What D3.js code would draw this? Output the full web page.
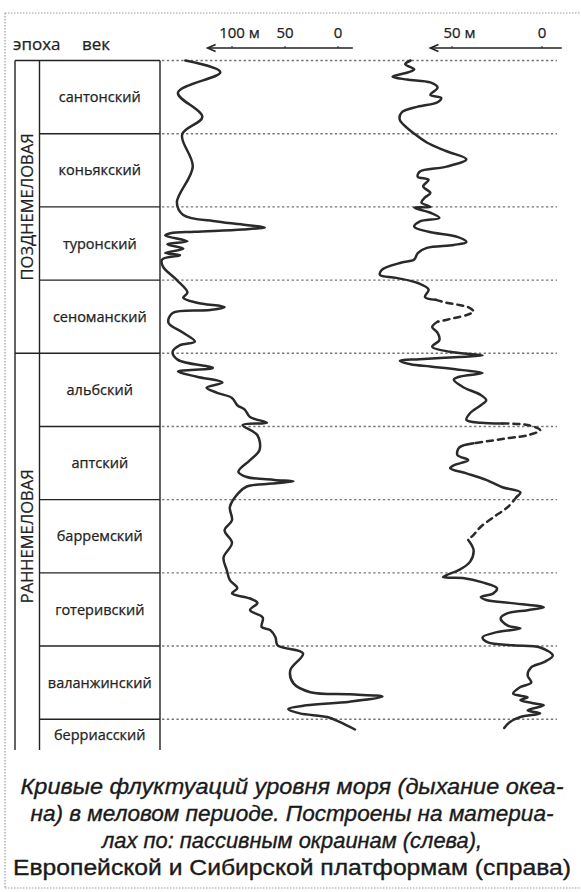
<!DOCTYPE html>
<html>
<head>
<meta charset="utf-8">
<script src="https://cdn.jsdelivr.net/npm/d3@7/dist/d3.min.js"></script>
<style>
  body { margin: 0; background: #fff; }
  svg { display: block; font-family: 'Open Sans', 'DejaVu Sans', sans-serif; }
</style>
</head>
<body>
<svg id="chart"></svg>
<script>
// ярусы сверху вниз, одна строка таблицы на ярус
const stages = ['сантонский', 'коньякский', 'туронский', 'сеноманский', 'альбский',
  'аптский', 'барремский', 'готеривский', 'валанжинский', 'берриасский'];
// [название, первый ярус, последний ярус + 1]
const epochs = [['ПОЗДНЕМЕЛОВАЯ', 0, 4], ['РАННЕМЕЛОВАЯ', 4, 10]];
const visibleStages = 9.42; // берриас обрезан снизу

const leftTicks = [100, 50, 0];
const rightTicks = [50, 0];
const unit = 'м';

// [положение в ярусах, уровень моря, м] — пассивные окраины
const leftCurve = [
  [0.00, 144], [0.16, 111], [0.44, 151], [0.77, 128], [1.01, 147], [1.45, 137], [1.94, 152],
  [2.11, 146], [2.20, 114], [2.25, 85], [2.28, 69], [2.31, 90], [2.34, 135], [2.36, 158],
  [2.39, 163], [2.47, 142], [2.51, 161], [2.57, 146], [2.63, 163], [2.66, 149], [2.72, 166],
  [2.82, 165], [3.00, 152], [3.17, 142], [3.24, 146], [3.31, 133], [3.37, 107], [3.41, 121],
  [3.45, 156], [3.58, 160], [3.72, 146], [3.84, 135], [3.89, 149], [3.98, 156], [4.09, 151],
  [4.20, 118], [4.25, 151], [4.32, 133], [4.40, 109], [4.47, 124], [4.54, 114], [4.61, 100],
  [4.71, 95], [4.77, 88], [4.87, 83], [4.95, 67], [4.98, 90], [5.12, 76], [5.32, 74],
  [5.46, 83], [5.62, 94], [5.69, 86], [5.73, 60], [5.75, 42], [5.78, 62], [5.82, 86],
  [5.91, 94], [6.10, 102], [6.28, 100], [6.42, 107], [6.59, 100], [6.79, 108], [6.96, 105],
  [7.10, 102], [7.21, 95], [7.28, 100], [7.35, 83], [7.41, 76], [7.51, 83], [7.61, 71],
  [7.74, 72], [7.78, 64], [7.88, 59], [7.99, 57], [8.10, 33], [8.33, 45], [8.51, 42],
  [8.63, 26], [8.66, -11], [8.69, -42], [8.76, -11], [8.81, 30], [8.86, 47], [8.92, 36],
  [8.97, 10], [9.04, -2], [9.14, -16],
];

// Европейская и Сибирская платформы: куски кривой, пунктир — предполагаемые участки
const rightCurve = [
  ['solid', [
    [0.00, 73], [0.05, 76], [0.12, 71], [0.16, 74], [0.22, 83], [0.26, 75], [0.30, 62],
    [0.37, 58], [0.47, 62], [0.51, 56], [0.57, 58], [0.63, 69], [0.71, 78], [0.81, 79],
    [0.92, 75], [0.98, 72], [1.12, 64], [1.24, 53], [1.35, 42], [1.45, 53], [1.52, 68],
    [1.59, 69], [1.63, 63], [1.72, 66], [1.81, 62], [1.87, 65], [1.94, 67], [2.00, 62],
    [2.01, 71], [2.08, 62], [2.15, 57], [2.20, 68], [2.27, 71], [2.34, 63], [2.41, 47],
    [2.48, 42], [2.52, 49], [2.56, 64], [2.63, 69], [2.72, 71], [2.76, 78], [2.86, 89],
    [2.93, 90], [2.97, 81], [3.04, 69], [3.13, 63], [3.23, 65], [3.27, 59],
  ]],
  ['dash', [
    [3.27, 59], [3.31, 53], [3.34, 46], [3.37, 41], [3.43, 38], [3.47, 41], [3.52, 49], [3.57, 58],
  ]],
  ['solid', [
    [3.57, 58], [3.64, 61], [3.72, 58], [3.82, 57], [3.91, 61], [3.98, 51], [4.01, 40],
    [4.03, 33], [4.05, 46], [4.08, 68], [4.10, 79], [4.15, 73], [4.18, 62], [4.23, 44],
    [4.27, 33], [4.32, 46], [4.36, 49], [4.46, 44], [4.57, 34], [4.64, 31], [4.71, 34],
    [4.82, 40], [4.91, 42], [4.95, 34], [4.96, 22],
  ]],
  ['dash', [
    [4.96, 22], [4.98, 8], [5.05, 1], [5.12, 8], [5.16, 19], [5.23, 38],
  ]],
  ['solid', [
    [5.23, 38], [5.29, 46], [5.39, 47], [5.46, 41], [5.53, 49], [5.57, 51], [5.64, 42],
    [5.73, 31], [5.83, 22], [5.90, 12], [5.96, 14],
  ]],
  ['dash', [
    [5.96, 14], [6.10, 19], [6.24, 27], [6.37, 34], [6.48, 38], [6.55, 41],
  ]],
  ['solid', [
    [6.55, 41], [6.69, 38], [6.85, 40], [6.96, 46], [7.03, 53], [7.06, 55], [7.07, 44],
    [7.13, 33], [7.21, 25], [7.28, 27], [7.33, 34], [7.37, 31], [7.41, 18], [7.47, -1],
    [7.51, 8], [7.55, 19], [7.62, 23], [7.72, 19], [7.76, 12], [7.81, 25], [7.88, 33],
    [7.95, 30], [7.99, 16], [8.02, 1], [8.13, -6], [8.22, -1], [8.29, 6], [8.40, 8],
    [8.50, 6], [8.56, 12], [8.65, 16], [8.70, 8], [8.74, 12], [8.78, 5], [8.81, -1],
    [8.88, 8], [8.92, 1], [8.97, 12], [9.04, 18], [9.12, 21],
  ]],
];

const captionLines = [
  'Кривые флуктуаций уровня моря (дыхание океа-',
  'на) в меловом периоде. Построены на материа-',
  'лах по: пассивным окраинам (слева),',
  'Европейской и Сибирской платформам (справа)',
];

const width = 581;
const height = 892;
const box = { left: 15, epochRight: 39.5, right: 160, top: 60.5, bottom: 750 };
const guideRight = 557;
const ink = '#222';

const svg = d3.select('#chart').attr('width', width).attr('height', height)
  .attr('viewBox', [0, 0, width, height]);
svg.append('rect').attr('width', width).attr('height', height).attr('fill', '#fff');

const y_scale = d3.scaleLinear([0, visibleStages], [box.top, box.bottom]);
const left_x = d3.scaleLinear([0, 100], [338, 232]);
const right_x = d3.scaleLinear([0, 50], [542, 452]);

/**
 * рамка страницы (точечная)
 */
const frame = svg.append('g').attr('stroke', '#9a9a9a').attr('stroke-width', 1.2)
  .attr('stroke-dasharray', '1.5 1.5');
frame.append('line').attr('x1', 5).attr('x2', width).attr('y1', 13).attr('y2', 13);
frame.append('line').attr('x1', 5).attr('x2', 5).attr('y1', 13).attr('y2', 888);
frame.append('line').attr('x1', 5).attr('x2', width).attr('y1', 888).attr('y2', 888);

/**
 * таблица эпох и ярусов
 */
const table = svg.append('g').attr('stroke', ink).attr('stroke-width', 1.4);
[box.left, box.epochRight, box.right].forEach((x) => {
  table.append('line').attr('x1', x).attr('x2', x).attr('y1', box.top).attr('y2', box.bottom);
});
table.append('line').attr('x1', box.left).attr('x2', box.right).attr('y1', box.top).attr('y2', box.top);
d3.range(1, Math.floor(visibleStages) + 1).forEach((i) => {
  const epochEdge = epochs.some((e) => e[1] === i);
  table.append('line')
    .attr('x1', epochEdge ? box.left : box.epochRight).attr('x2', box.right)
    .attr('y1', y_scale(i)).attr('y2', y_scale(i));
});

// пунктирные границы ярусов поперёк графика
svg.append('g')
  .selectAll('line')
  .data(d3.range(0, Math.floor(visibleStages) + 1))
  .join('line')
  .attr('x1', box.right + 2).attr('x2', guideRight)
  .attr('y1', (i) => y_scale(i)).attr('y2', (i) => y_scale(i))
  .attr('stroke', '#777').attr('stroke-width', 1.4).attr('stroke-dasharray', '2.4 2.4');

svg.append('g')
  .selectAll('text')
  .data(stages)
  .join('text')
  .attr('x', (box.epochRight + box.right) / 2)
  .attr('y', (_, i) => y_scale((i + Math.min(i + 1, visibleStages)) / 2))
  .attr('dy', '0.35em')
  .attr('text-anchor', 'middle')
  .attr('font-size', 14.5)
  .attr('fill', ink)
  .attr('stroke', ink)
  .attr('stroke-width', 0.25)
  .text((d) => d);

svg.append('g')
  .selectAll('text')
  .data(epochs)
  .join('text')
  .attr('transform', (e) => {
    const mid = (e[1] + Math.min(e[2], Math.floor(visibleStages))) / 2;
    return `translate(${(box.left + box.epochRight) / 2},${y_scale(mid)}) rotate(-90)`;
  })
  .attr('dy', '0.36em')
  .attr('text-anchor', 'middle')
  .attr('font-size', 16.5)
  .attr('fill', ink)
  .attr('stroke', ink)
  .attr('stroke-width', 0.2)
  .text((e) => e[0]);

/**
 * заголовки колонок и шкалы со стрелками
 */
const head = svg.append('g').attr('fill', ink).attr('stroke', ink).attr('stroke-width', 0.25)
  .attr('font-size', 17);
head.append('text').attr('x', 13).attr('y', 50).text('эпоха');
head.append('text').attr('x', 82).attr('y', 50).text('век');

function drawScale(scale, ticks, arrowDomain) {
  const g = svg.append('g');
  const axisY = 48;
  ticks.forEach((v, i) => {
    const label = g.append('text')
      .attr('y', 38)
      .attr('font-size', 15)
      .attr('fill', ink)
      .attr('stroke', ink)
      .attr('stroke-width', 0.25)
      .text(i === 0 ? `${v} ${unit}` : `${v}`);
    const numWidth = label.node().getSubStringLength(0, String(v).length);
    label.attr('x', scale(v) - numWidth / 2);
    g.append('line')
      .attr('x1', scale(v)).attr('x2', scale(v))
      .attr('y1', axisY - 2).attr('y2', axisY)
      .attr('stroke', ink).attr('stroke-width', 1);
  });
  const x0 = scale(arrowDomain[0]);
  const x1 = scale(arrowDomain[1]);
  g.append('line')
    .attr('x1', x0).attr('x2', x1).attr('y1', axisY).attr('y2', axisY)
    .attr('stroke', ink).attr('stroke-width', 1.3);
  g.append('path')
    .attr('d', `M${x1 + 8},${axisY - 3.5}L${x1},${axisY}L${x1 + 8},${axisY + 3.5}`)
    .attr('fill', 'none').attr('stroke', ink).attr('stroke-width', 1.6);
}
drawScale(left_x, leftTicks, [-14, 123]);
drawScale(right_x, rightTicks, [-11, 62]);

/**
 * кривые уровня моря
 */
const line_of = (x_scale) => d3.line()
  .curve(d3.curveCatmullRom.alpha(0.5))
  .x((d) => x_scale(d[1]))
  .y((d) => y_scale(d[0]));

svg.append('path')
  .attr('d', line_of(left_x)(leftCurve))
  .attr('fill', 'none').attr('stroke', '#2a2a2a').attr('stroke-width', 2.5)
  .attr('stroke-linejoin', 'round').attr('stroke-linecap', 'round');

svg.append('g')
  .selectAll('path')
  .data(rightCurve)
  .join('path')
  .attr('d', (s) => line_of(right_x)(s[1]))
  .attr('fill', 'none').attr('stroke', '#2a2a2a').attr('stroke-width', 2.5)
  .attr('stroke-dasharray', (s) => (s[0] === 'dash' ? '6 5' : null))
  .attr('stroke-linejoin', 'round').attr('stroke-linecap', 'round');

/**
 * подпись
 */
const captionWidths = [543, 523, 380, 558];
svg.append('g')
  .selectAll('text')
  .data(captionLines)
  .join('text')
  .attr('x', 292)
  .attr('y', (_, i) => 794 + i * 27)
  .attr('text-anchor', 'middle')
  .attr('font-family', "'Liberation Sans Narrow', 'Liberation Sans', sans-serif")
  .attr('font-size', 22)
  .attr('font-style', (_, i) => (i < 3 ? 'italic' : 'normal'))
  .attr('fill', '#1a1a1a')
  .attr('stroke', '#1a1a1a')
  .attr('stroke-width', 0.35)
  .attr('textLength', (_, i) => captionWidths[i])
  .attr('lengthAdjust', 'spacingAndGlyphs')
  .text((d) => d);
</script>
</body>
</html>
